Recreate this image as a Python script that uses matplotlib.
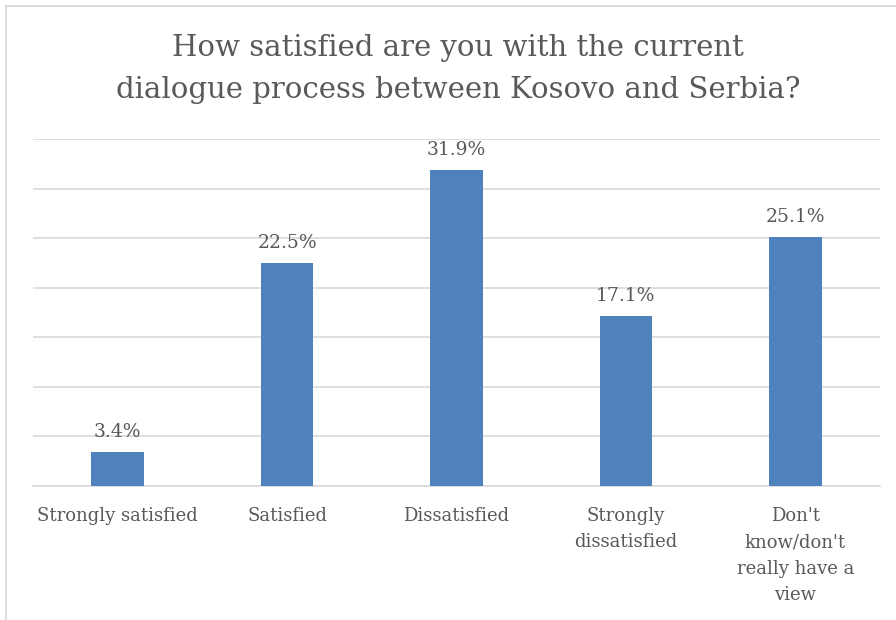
import matplotlib.pyplot as plt
from matplotlib.lines import Line2D
import numpy as np

categories = ["Strongly satisfied", "Satisfied", "Dissatisfied",
              "Strongly\ndissatisfied", "Don't\nknow/don't\nreally have a\nview"]
values = [3.4, 22.5, 31.9, 17.1, 25.1]
title = "How satisfied are you with the current\ndialogue process between Kosovo and Serbia?"

text_color = "#595959"
grid_color = "#d9d9d9"
bar_color = "#4f81bd"

plt.rcParams["font.family"] = ["DejaVu Serif"]

fig = plt.figure(figsize=(8.96, 6.2), dpi=100)
ax = fig.add_axes([33 / 896, 1 - 486 / 620, (880 - 33) / 896, (486 - 139) / 620])

x = np.arange(len(categories))
bars = ax.bar(x, values, width=0.31, color=bar_color, zorder=3)

for b, v in zip(bars, values):
    ax.annotate(f"{v:.1f}%", (b.get_x() + b.get_width() / 2, v),
                xytext=(0, 8), textcoords="offset points",
                ha="center", va="bottom", fontsize=13.5, color=text_color)

ax.set_xlim(-0.5, len(categories) - 0.5)
ax.set_ylim(0, 35)
ax.set_yticks(np.arange(0, 36, 5))
ax.set_yticklabels([])
ax.yaxis.grid(True, color=grid_color, linewidth=1.2, zorder=0)
ax.tick_params(axis="both", length=0)
ax.set_xticks(x)
ax.set_xticklabels(categories, fontsize=13, color=text_color, linespacing=1.6)
ax.tick_params(axis="x", pad=15)
for s in ["top", "right", "left"]:
    ax.spines[s].set_visible(False)
ax.spines["bottom"].set_color(grid_color)
ax.spines["bottom"].set_linewidth(1.2)

fig.text(0.511, 1 - 69 / 620, title, ha="center", va="center",
         fontsize=21, color=text_color, linespacing=1.65)

# chart frame
fig.add_artist(Line2D([5.5 / 896, 5.5 / 896], [0, 1 - 6 / 620],
                      transform=fig.transFigure, color=grid_color, lw=1.3))
fig.add_artist(Line2D([5.5 / 896, 1], [1 - 6 / 620, 1 - 6 / 620],
                      transform=fig.transFigure, color=grid_color, lw=1.3))

fig.savefig("out.png", dpi=100)
